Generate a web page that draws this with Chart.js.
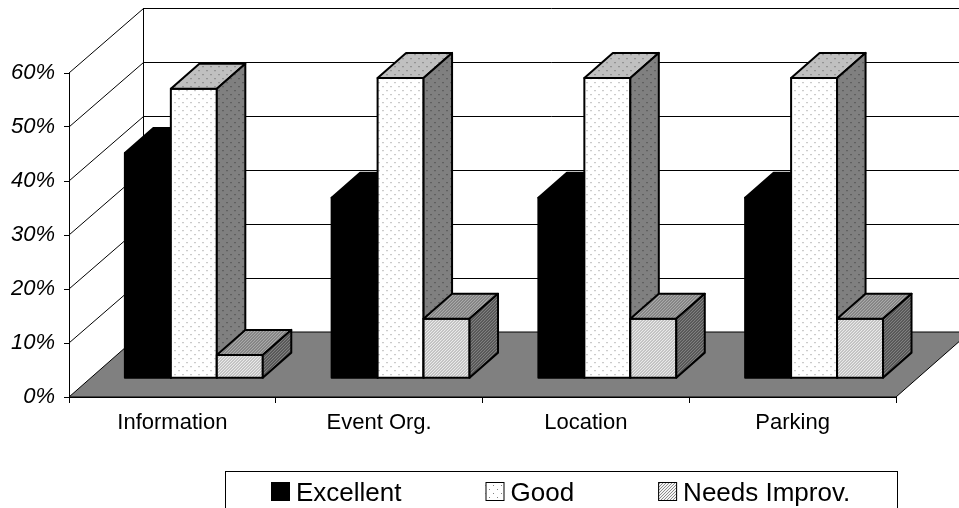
<!DOCTYPE html>
<html>
<head>
<meta charset="utf-8">
<script src="https://cdn.jsdelivr.net/npm/chart.js@4.4.1/dist/chart.umd.min.js"></script>
<style>
    html, body { margin: 0; padding: 0; background: #fff; }
</style>
</head>
<body>
<canvas id="ratingChart" width="959" height="508"></canvas>
<script>
// Data (percent)
const CATEGORIES = ['Information', 'Event Org.', 'Location', 'Parking'];
const SERIES_NAMES = ['Excellent', 'Good', 'Needs Improv.'];
const EXCELLENT = [41.7, 33.4, 33.4, 33.4];
const GOOD = [53.6, 55.6, 55.6, 55.6];
const NEEDS_IMPROV = [4.3, 11.0, 11.0, 11.0];
const Y_MAX = 60;
const Y_STEP = 10;

// 3D look: depth vector of the whole plot box, and where the bars sit in it
const DEPTH = { x: 74, y: -65 };
const BAR_OFFSET = 0.29;   // front face of the bars, fraction of depth
const BAR_DEPTH = 0.385;   // thickness of a bar, fraction of depth
const FONT = 'Arial, "Liberation Sans", sans-serif';

function makePattern(bg, fg, kind) {
    const n = kind === 'dots' ? 8 : 6;
    const c = document.createElement('canvas');
    c.width = n; c.height = n;
    const g = c.getContext('2d');
    g.fillStyle = bg;
    g.fillRect(0, 0, n, n);
    g.fillStyle = fg;
    if (kind === 'dots') {
        g.fillRect(1, 1, 1, 1);
        g.fillRect(5, 5, 1, 1);
    } else {
        // "/" hatch, a line every 3px
        for (let i = 0; i < n; i++) {
            g.fillRect(i, n - 1 - i, 1, 1);
            g.fillRect((i + 3) % n, n - 1 - i, 1, 1);
        }
    }
    return g.createPattern(c, 'repeat');
}

const STYLES = [
    { front: '#000000', top: '#000000', side: '#000000' },
    { front: makePattern('#ffffff', '#808080', 'dots'), top: makePattern('#c0c0c0', '#555555', 'dots'), side: makePattern('#808080', '#333333', 'dots') },
    { front: makePattern('#f4f4f4', '#8c8c8c', 'hatch'), top: makePattern('#b4b4b4', '#505050', 'hatch'), side: makePattern('#8a8a8a', '#202020', 'hatch') }
];

function poly(ctx, pts, fill) {
    ctx.beginPath();
    ctx.moveTo(pts[0][0], pts[0][1]);
    for (let i = 1; i < pts.length; i++) ctx.lineTo(pts[i][0], pts[i][1]);
    ctx.closePath();
    ctx.fillStyle = fill;
    ctx.fill();
    ctx.stroke();
}

const depthPlugin = {
    id: 'depth3d',
    beforeDraw(chart) {
        // walls and floor, built from the y scale
        const { ctx, chartArea: a, scales: { y } } = chart;
        const y0 = y.getPixelForValue(0);
        ctx.save();
        ctx.lineWidth = 1;
        ctx.strokeStyle = '#000';
        poly(ctx, [[a.left, y0], [a.right, y0], [a.right + DEPTH.x, y0 + DEPTH.y], [a.left + DEPTH.x, y0 + DEPTH.y]], '#808080');
        const bx = a.left + DEPTH.x + 0.5;
        ctx.beginPath();
        ctx.moveTo(bx, y.getPixelForValue(Y_MAX) + DEPTH.y);
        ctx.lineTo(bx, y0 + DEPTH.y);
        for (let v = Y_STEP; v <= Y_MAX; v += Y_STEP) {
            const py = y.getPixelForValue(v);
            const by = Math.round(py + DEPTH.y) + 0.5;
            ctx.moveTo(a.left, py);
            ctx.lineTo(bx, by);
            ctx.moveTo(bx, by);
            ctx.lineTo(chart.width, by);
        }
        ctx.stroke();
        ctx.restore();
    },
    beforeDatasetDraw() {
        return false; // drawn in our own order below
    },
    afterDatasetsDraw(chart) {
        const ctx = chart.ctx;
        const dx = DEPTH.x * BAR_DEPTH, dy = DEPTH.y * BAR_DEPTH;
        chart.data.datasets.forEach((ds, i) => {
            const meta = chart.getDatasetMeta(i);
            const st = STYLES[i];
            ctx.save();
            ctx.translate(DEPTH.x * BAR_OFFSET, DEPTH.y * BAR_OFFSET);
            meta.controller.draw();
            ctx.lineWidth = 2;
            ctx.lineJoin = 'round';
            ctx.strokeStyle = '#000';
            meta.data.forEach(bar => {
                const { x, y, base, width } = bar.getProps(['x', 'y', 'base', 'width'], true);
                const L = x - width / 2, R = x + width / 2;
                ctx.strokeRect(L, y, width, base - y);
                poly(ctx, [[L, y], [L + dx, y + dy], [R + dx, y + dy], [R, y]], st.top);
                poly(ctx, [[R, y], [R + dx, y + dy], [R + dx, base + dy], [R, base]], st.side);
            });
            ctx.restore();
        });
    },
    afterDraw(chart) {
        // legend box
        const ctx = chart.ctx;
        ctx.save();
        ctx.font = '26px ' + FONT;
        ctx.lineWidth = 1;
        ctx.strokeStyle = '#000';
        ctx.strokeRect(225.5, 471.5, 672, 60);
        const items = chart.data.datasets.map((ds, i) => ({ text: ds.label, fill: STYLES[i].front, w: ctx.measureText(ds.label).width }));
        const total = items.reduce((s, it) => s + 25 + it.w, 0) + 84 * (items.length - 1);
        let x = Math.round(561 - total / 2);
        items.forEach(it => {
            ctx.fillStyle = it.fill;
            ctx.fillRect(x, 482, 19, 19);
            ctx.strokeRect(x + 0.5, 482.5, 18, 18);
            ctx.fillStyle = '#000';
            ctx.fillText(it.text, x + 25, 501);
            x += 25 + it.w + 84;
        });
        ctx.restore();
    }
};

const ctx = document.getElementById('ratingChart').getContext('2d');
new Chart(ctx, {
    type: 'bar',
    data: {
        labels: CATEGORIES,
        datasets: [EXCELLENT, GOOD, NEEDS_IMPROV].map((values, i) => ({
            label: SERIES_NAMES[i],
            data: values,
            backgroundColor: STYLES[i].front,
            borderWidth: 0,
            categoryPercentage: 0.667,
            barPercentage: 1,
            clip: false
        }))
    },
    options: {
        responsive: false,
        animation: false,
        events: [],
        layout: { padding: { left: 0, top: 73, right: 63, bottom: 0 } },
        plugins: { legend: { display: false }, tooltip: { enabled: false } },
        scales: {
            x: {
                afterFit: s => { s.height = 111; },
                grid: { drawOnChartArea: false, tickLength: 6, color: '#000', offset: true },
                border: { color: '#000' },
                ticks: { color: '#000', padding: 7, font: { family: FONT, size: 22 } }
            },
            y: {
                min: 0,
                max: Y_MAX,
                afterFit: s => { s.width = 69; },
                grid: { drawOnChartArea: false, tickLength: 5, color: '#000' },
                border: { color: '#000' },
                ticks: {
                    stepSize: Y_STEP,
                    color: '#000',
                    padding: 9,
                    font: { family: FONT, size: 22, style: 'italic' },
                    callback: v => v + '%'
                }
            }
        }
    },
    plugins: [depthPlugin]
});
</script>
</body>
</html>
